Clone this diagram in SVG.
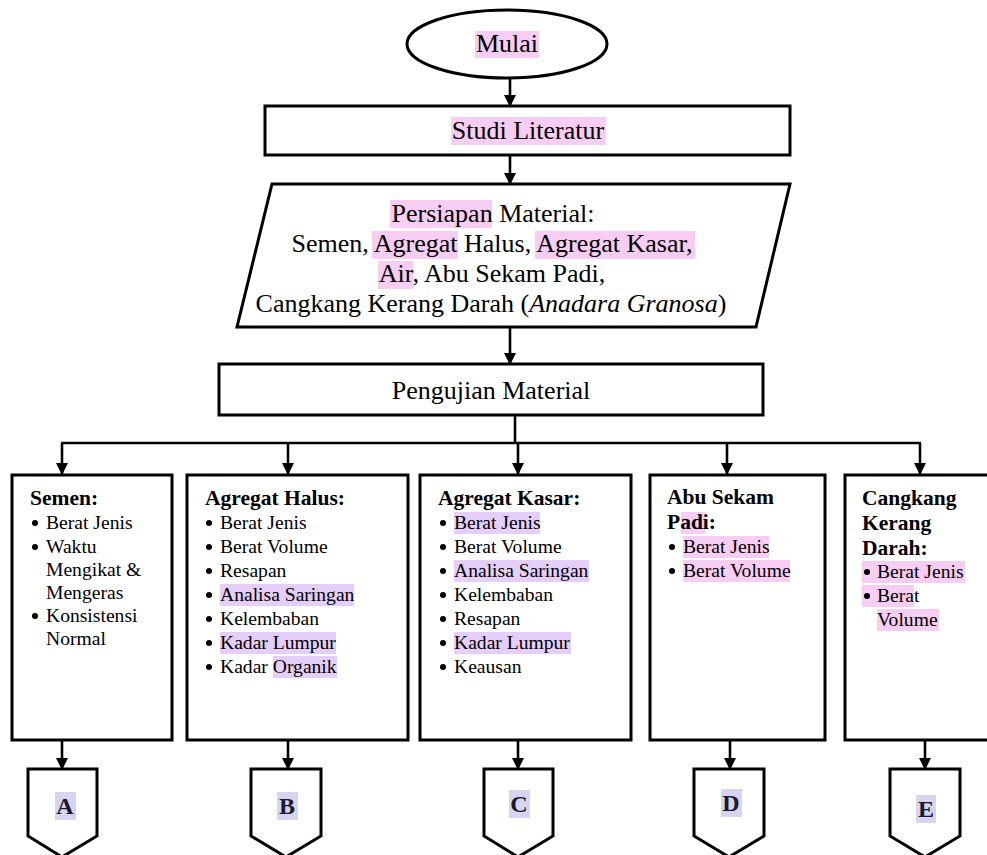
<svg xmlns="http://www.w3.org/2000/svg" width="987" height="855" viewBox="0 0 987 855">
<style>
  .shape { fill: #ffffff; stroke: #000000; stroke-width: 3; }
  .conn { fill: none; stroke: #000000; stroke-width: 2.6; }
  .main { font-family: "Liberation Serif", "Times New Roman", serif; font-size: 26px; fill: #000; }
  .title { font-family: "Liberation Serif", "Times New Roman", serif; font-size: 21.5px; font-weight: bold; fill: #000; }
  .item { font-family: "Liberation Serif", "Times New Roman", serif; font-size: 19.6px; fill: #000; }
  .letter { font-family: "Liberation Serif", "Times New Roman", serif; font-size: 24px; font-weight: bold; fill: #1a1a2e; text-anchor: middle; }
  .pink { fill: #f8cdf3; }
  .purple { fill: #e6cefb; }
  .lav { fill: #d6d4ee; }
</style>
<defs>
  <marker id="arrow" markerUnits="userSpaceOnUse" markerWidth="12" markerHeight="14" refX="11" refY="6" orient="auto" viewBox="0 0 12 12">
    <path d="M0,0 L12,6 L0,12 Z" fill="#000"/>
  </marker>
</defs>
<rect width="987" height="855" fill="#ffffff"/>

<g id="connectors">
  <line class="conn" x1="510" y1="78" x2="510" y2="106" marker-end="url(#arrow)"/>
  <line class="conn" x1="510" y1="155" x2="510" y2="184" marker-end="url(#arrow)"/>
  <line class="conn" x1="510" y1="327" x2="510" y2="364" marker-end="url(#arrow)"/>
  <line class="conn" x1="515" y1="415" x2="515" y2="443"/>
  <line class="conn" x1="61" y1="443" x2="921" y2="443"/>
  <line class="conn" x1="62" y1="443" x2="62" y2="474" marker-end="url(#arrow)"/>
  <line class="conn" x1="288" y1="443" x2="288" y2="474" marker-end="url(#arrow)"/>
  <line class="conn" x1="518" y1="443" x2="518" y2="474" marker-end="url(#arrow)"/>
  <line class="conn" x1="727" y1="443" x2="727" y2="474" marker-end="url(#arrow)"/>
  <line class="conn" x1="920" y1="443" x2="920" y2="474" marker-end="url(#arrow)"/>
  <line class="conn" x1="62" y1="740" x2="62" y2="769" marker-end="url(#arrow)"/>
  <line class="conn" x1="288" y1="740" x2="288" y2="769" marker-end="url(#arrow)"/>
  <line class="conn" x1="518" y1="740" x2="518" y2="769" marker-end="url(#arrow)"/>
  <line class="conn" x1="730" y1="740" x2="730" y2="769" marker-end="url(#arrow)"/>
  <line class="conn" x1="925" y1="740" x2="925" y2="769" marker-end="url(#arrow)"/>
</g>

<g id="mulai">
  <ellipse class="shape" cx="507" cy="44" rx="100" ry="34"/>
  <rect class="pink" x="475" y="31" width="64" height="27"/>
  <text class="main" x="507" y="52" text-anchor="middle">Mulai</text>
</g>

<g id="studi-literatur">
  <rect class="shape" x="265" y="106" width="525" height="49"/>
  <rect class="pink" x="451" y="117" width="155" height="28"/>
  <text class="main" x="528" y="139" text-anchor="middle">Studi Literatur</text>
</g>

<g id="persiapan-material">
  <polygon class="shape" points="272,184 790,184 756,327 237,327"/>
  <rect class="pink" x="390" y="200" width="102" height="28"/>
  <rect class="pink" x="372" y="231" width="86" height="28"/>
  <rect class="pink" x="535" y="231" width="160" height="28"/>
  <rect class="pink" x="378" y="261" width="35" height="28"/>
  <text class="main" x="493" y="222" text-anchor="middle">Persiapan Material:</text>
  <text class="main" x="492" y="252" text-anchor="middle">Semen, Agregat Halus, Agregat Kasar,</text>
  <text class="main" x="492" y="282" text-anchor="middle">Air, Abu Sekam Padi,</text>
  <text class="main" x="491" y="312" text-anchor="middle">Cangkang Kerang Darah (<tspan font-style="italic">Anadara Granosa</tspan>)</text>
</g>

<g id="pengujian-material">
  <rect class="shape" x="219" y="364" width="544" height="51"/>
  <text class="main" x="491" y="399" text-anchor="middle">Pengujian Material</text>
</g>

<g id="semen">
  <rect class="shape" x="12" y="475" width="160" height="265"/>
  <text class="title" x="30" y="505">Semen:</text>
  <g fill="#000">
    <circle cx="35" cy="523" r="3"/><circle cx="35" cy="547" r="3"/><circle cx="35" cy="616" r="3"/>
  </g>
  <text class="item" x="46" y="529">Berat Jenis</text>
  <text class="item" x="46" y="553">Waktu</text>
  <text class="item" x="46" y="576">Mengikat &amp;</text>
  <text class="item" x="46" y="599">Mengeras</text>
  <text class="item" x="46" y="622">Konsistensi</text>
  <text class="item" x="46" y="645">Normal</text>
</g>

<g id="agregat-halus">
  <rect class="shape" x="187" y="475" width="221" height="265"/>
  <rect class="purple" x="220" y="584" width="134" height="22"/>
  <rect class="purple" x="220" y="632" width="116" height="22"/>
  <rect class="purple" x="273" y="656" width="64" height="22"/>
  <text class="title" x="205" y="505">Agregat Halus:</text>
  <g fill="#000">
    <circle cx="209" cy="523" r="3"/><circle cx="209" cy="547" r="3"/><circle cx="209" cy="571" r="3"/>
    <circle cx="209" cy="595" r="3"/><circle cx="209" cy="619" r="3"/><circle cx="209" cy="643" r="3"/>
    <circle cx="209" cy="667" r="3"/>
  </g>
  <text class="item" x="220" y="529">Berat Jenis</text>
  <text class="item" x="220" y="553">Berat Volume</text>
  <text class="item" x="220" y="577">Resapan</text>
  <text class="item" x="220" y="601">Analisa Saringan</text>
  <text class="item" x="220" y="625">Kelembaban</text>
  <text class="item" x="220" y="649">Kadar Lumpur</text>
  <text class="item" x="220" y="673">Kadar Organik</text>
</g>

<g id="agregat-kasar">
  <rect class="shape" x="420" y="475" width="211" height="265"/>
  <rect class="purple" x="454" y="512" width="86" height="22"/>
  <rect class="purple" x="454" y="560" width="135" height="22"/>
  <rect class="purple" x="454" y="632" width="117" height="22"/>
  <text class="title" x="438" y="505">Agregat Kasar:</text>
  <g fill="#000">
    <circle cx="443" cy="523" r="3"/><circle cx="443" cy="547" r="3"/><circle cx="443" cy="571" r="3"/>
    <circle cx="443" cy="595" r="3"/><circle cx="443" cy="619" r="3"/><circle cx="443" cy="643" r="3"/>
    <circle cx="443" cy="667" r="3"/>
  </g>
  <text class="item" x="454" y="529">Berat Jenis</text>
  <text class="item" x="454" y="553">Berat Volume</text>
  <text class="item" x="454" y="577">Analisa Saringan</text>
  <text class="item" x="454" y="601">Kelembaban</text>
  <text class="item" x="454" y="625">Resapan</text>
  <text class="item" x="454" y="649">Kadar Lumpur</text>
  <text class="item" x="454" y="673">Keausan</text>
</g>

<g id="abu-sekam-padi">
  <rect class="shape" x="650" y="475" width="175" height="265"/>
  <rect class="pink" x="681" y="512" width="24" height="22"/>
  <rect class="pink" x="683" y="536" width="86" height="22"/>
  <rect class="pink" x="683" y="560" width="107" height="22"/>
  <text class="title" x="667" y="504">Abu Sekam</text>
  <text class="title" x="667" y="529">Padi:</text>
  <g fill="#000">
    <circle cx="672" cy="547" r="3"/><circle cx="672" cy="571" r="3"/>
  </g>
  <text class="item" x="683" y="553">Berat Jenis</text>
  <text class="item" x="683" y="577">Berat Volume</text>
</g>

<g id="cangkang-kerang-darah">
  <rect class="shape" x="845" y="475" width="160" height="265"/>
  <rect class="pink" x="862" y="561" width="103" height="22"/>
  <rect class="pink" x="862" y="585" width="52" height="22"/>
  <rect class="pink" x="877" y="609" width="62" height="22"/>
  <text class="title" x="862" y="505">Cangkang</text>
  <text class="title" x="862" y="530">Kerang</text>
  <text class="title" x="862" y="555">Darah:</text>
  <g fill="#000">
    <circle cx="867" cy="572" r="3"/><circle cx="867" cy="596" r="3"/>
  </g>
  <text class="item" x="877" y="578">Berat Jenis</text>
  <text class="item" x="877" y="602">Berat</text>
  <text class="item" x="877" y="626">Volume</text>
</g>

<g id="connector-a">
  <polygon class="shape" points="28,769 97,769 97,836 62,857 28,836"/>
  <rect class="lav" x="55" y="792" width="21" height="28"/>
  <text class="letter" x="65" y="814">A</text>
</g>
<g id="connector-b">
  <polygon class="shape" points="251,769 321,769 321,836 286,857 251,836"/>
  <rect class="lav" x="277" y="792" width="21" height="28"/>
  <text class="letter" x="287" y="814">B</text>
</g>
<g id="connector-c">
  <polygon class="shape" points="484,769 553,769 553,836 518,857 484,836"/>
  <rect class="lav" x="509" y="790" width="21" height="28"/>
  <text class="letter" x="519" y="812">C</text>
</g>
<g id="connector-d">
  <polygon class="shape" points="694,769 764,769 764,836 729,857 694,836"/>
  <rect class="lav" x="721" y="789" width="21" height="28"/>
  <text class="letter" x="731" y="811">D</text>
</g>
<g id="connector-e">
  <polygon class="shape" points="890,769 960,769 960,836 925,857 890,836"/>
  <rect class="lav" x="916" y="795" width="20" height="28"/>
  <text class="letter" x="926" y="817">E</text>
</g>
</svg>
